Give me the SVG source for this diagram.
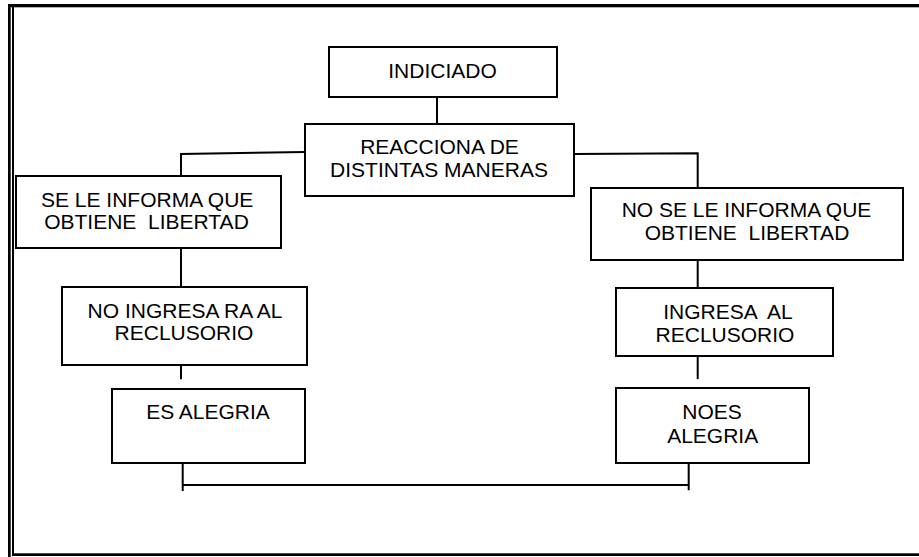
<svg xmlns="http://www.w3.org/2000/svg" width="919" height="557" viewBox="0 0 919 557">
<style>
.box{fill:#fff;stroke:#000;stroke-width:2}
.ln{fill:none;stroke:#000;stroke-width:2}
text{font-family:"Liberation Sans",Arial,sans-serif;font-size:21px;fill:#000;text-anchor:middle}
</style>
<rect width="919" height="557" fill="#fff"/>
<g id="frame">
<rect x="8" y="4" width="911" height="3.3" fill="#000"/>
<rect x="8" y="4" width="2.7" height="553" fill="#000"/>
<rect x="12" y="5.5" width="2" height="550.5" fill="#000"/>
<rect x="12" y="553.3" width="907" height="2.7" fill="#000"/>
</g>
<g id="connectors">
<path class="ln" d="M437 97V124"/>
<path class="ln" d="M305 152L181 154V176"/>
<path class="ln" d="M574 154L697.7 153.3V188"/>
<path class="ln" d="M181 248V287"/>
<path class="ln" d="M181 365V379.3"/>
<path class="ln" d="M697.7 260V288"/>
<path class="ln" d="M697.7 356V379"/>
<path class="ln" d="M182.7 459.7V491M182 485H688.7M688.7 459.7V490.3"/>
</g>
<g id="n-indiciado">
<rect class="box" x="329" y="47" width="228" height="50"/>
<text x="442.5" y="78.3">INDICIADO</text>
</g>
<g id="n-reacciona">
<rect class="box" x="305" y="124" width="269" height="72"/>
<text x="439.5" y="154.3">REACCIONA DE</text>
<text x="439" y="176.7">DISTINTAS MANERAS</text>
</g>
<g id="n-se-le">
<rect class="box" x="16" y="176" width="265" height="72"/>
<text x="147.2" y="206.7">SE LE INFORMA QUE</text>
<text x="146.5" y="229.3" xml:space="preserve">OBTIENE  LIBERTAD</text>
</g>
<g id="n-no-se-le">
<rect class="box" x="591" y="188" width="312" height="72"/>
<text x="746.5" y="217.3">NO SE LE INFORMA QUE</text>
<text x="747" y="240" xml:space="preserve">OBTIENE  LIBERTAD</text>
</g>
<g id="n-no-ingresa">
<rect class="box" x="62" y="287" width="245" height="78"/>
<text x="185" y="317.7">NO INGRESA RA AL</text>
<text x="184" y="340.3">RECLUSORIO</text>
</g>
<g id="n-ingresa">
<rect class="box" x="616" y="288" width="217" height="68"/>
<text x="728" y="318.7" xml:space="preserve">INGRESA  AL</text>
<text x="725" y="342">RECLUSORIO</text>
</g>
<g id="n-es-alegria">
<rect class="box" x="112" y="389" width="193" height="74"/>
<text x="208" y="419.3">ES ALEGRIA</text>
</g>
<g id="n-noes-alegria">
<rect class="box" x="616" y="388" width="193" height="75"/>
<text x="712" y="418.7">NOES</text>
<text x="712.7" y="442.7">ALEGRIA</text>
</g>
</svg>
